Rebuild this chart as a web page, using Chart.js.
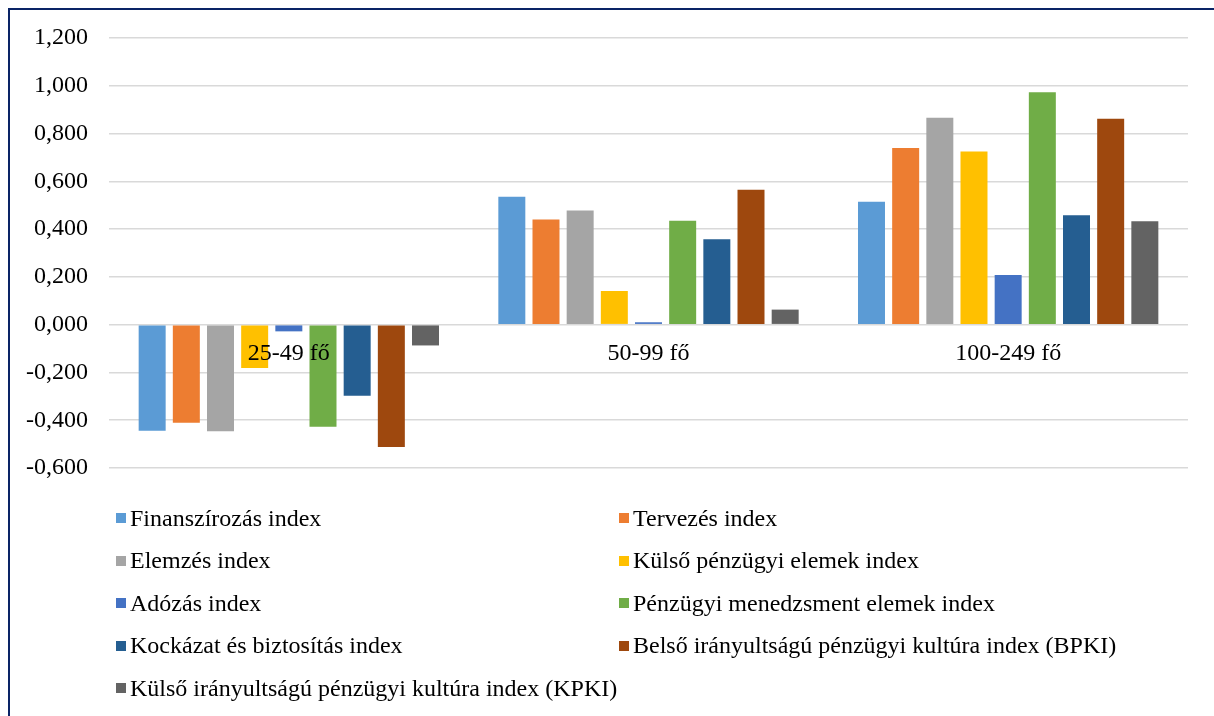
<!DOCTYPE html>
<html lang="hu">
<head>
<meta charset="utf-8">
<script src="https://cdn.jsdelivr.net/npm/chart.js@4/dist/chart.umd.min.js"></script>
<style>
  html, body { margin: 0; padding: 0; background: #fff; }
  #wrap { position: relative; width: 1214px; height: 716px; overflow: hidden; font-family: "Liberation Serif", "Times New Roman", serif; }
  #frame { position: absolute; left: 8px; top: 8px; width: 1206px; height: 708px; border-top: 2px solid #0a2466; border-left: 2px solid #0a2466; box-sizing: border-box; pointer-events: none; }
  #cv { position: absolute; left: 0; top: 0; }
  #legend { position: absolute; left: 116px; top: 497px; display: grid; grid-template-columns: 503px 560px; grid-auto-rows: 42.5px; font-size: 24px; color: #000; }
  .item { display: flex; align-items: center; white-space: nowrap; }
  .sw { width: 10px; height: 10px; margin-right: 4px; flex: none; }
</style>
</head>
<body>
<div id="wrap">
  <canvas id="cv" width="1214" height="716"></canvas>
  <div id="legend"></div>
  <div id="frame"></div>
</div>
<script>
const categories = ["25-49 fő", "50-99 fő", "100-249 fő"];
const seriesNames = [
  "Finanszírozás index",
  "Tervezés index",
  "Elemzés index",
  "Külső pénzügyi elemek index",
  "Adózás index",
  "Pénzügyi menedzsment elemek index",
  "Kockázat és biztosítás index",
  "Belső irányultságú pénzügyi kultúra index (BPKI)",
  "Külső irányultságú pénzügyi kultúra index (KPKI)"
];
const seriesColors = ["#5B9BD5", "#ED7D31", "#A5A5A5", "#FFC000", "#4472C4", "#70AD47", "#255E91", "#9E480E", "#636363"];

const finanszirozas = [-0.444, 0.535, 0.515];
const tervezes      = [-0.411, 0.440, 0.740];
const elemzes       = [-0.446, 0.478, 0.866];
const kulsoPenzugyi = [-0.181, 0.141, 0.725];
const adozas        = [-0.028, 0.010, 0.208];
const menedzsment   = [-0.427, 0.435, 0.973];
const kockazat      = [-0.298, 0.358, 0.458];
const bpki          = [-0.512, 0.565, 0.862];
const kpki          = [-0.087, 0.063, 0.433];

const seriesValues = [finanszirozas, tervezes, elemzes, kulsoPenzugyi, adozas, menedzsment, kockazat, bpki, kpki];

const yMin = -0.6, yMax = 1.2, yStep = 0.2;

const fontFamily = '"Liberation Serif", "Times New Roman", serif';

const datasets = seriesNames.map((name, i) => ({
  label: name,
  data: seriesValues[i],
  backgroundColor: seriesColors[i],
  borderWidth: 0,
  categoryPercentage: 0.855,
  barPercentage: 0.79
}));

new Chart(document.getElementById('cv'), {
  type: 'bar',
  data: { labels: categories, datasets },
  options: {
    responsive: false,
    animation: false,
    layout: { padding: { left: 10, right: 26, top: 38, bottom: 248 } },
    plugins: { legend: { display: false }, tooltip: { enabled: false } },
    scales: {
      x: {
        position: { y: 0 },
        grid: { display: false, drawTicks: false },
        border: { display: false },
        ticks: { color: '#000', font: { family: fontFamily, size: 24 }, padding: 15, z: 1, maxRotation: 0, autoSkip: false }
      },
      y: {
        min: yMin, max: yMax,
        afterFit: (s) => { s.width = 99; },
        grid: { color: '#D9D9D9', lineWidth: 1.5, drawTicks: false },
        border: { display: false },
        ticks: {
          stepSize: yStep,
          color: '#000',
          padding: 21,
          font: { family: fontFamily, size: 24 },
          callback: (v) => { const n = Math.abs(v) < 1e-9 ? 0 : v; return n.toFixed(3).replace('.', ','); }
        }
      }
    }
  }
});

const legend = document.getElementById('legend');
seriesNames.forEach((name, i) => {
  const it = document.createElement('div');
  it.className = 'item';
  const sw = document.createElement('span');
  sw.className = 'sw';
  sw.style.background = seriesColors[i];
  const tx = document.createElement('span');
  tx.textContent = name;
  it.appendChild(sw); it.appendChild(tx);
  legend.appendChild(it);
});
</script>
</body>
</html>
